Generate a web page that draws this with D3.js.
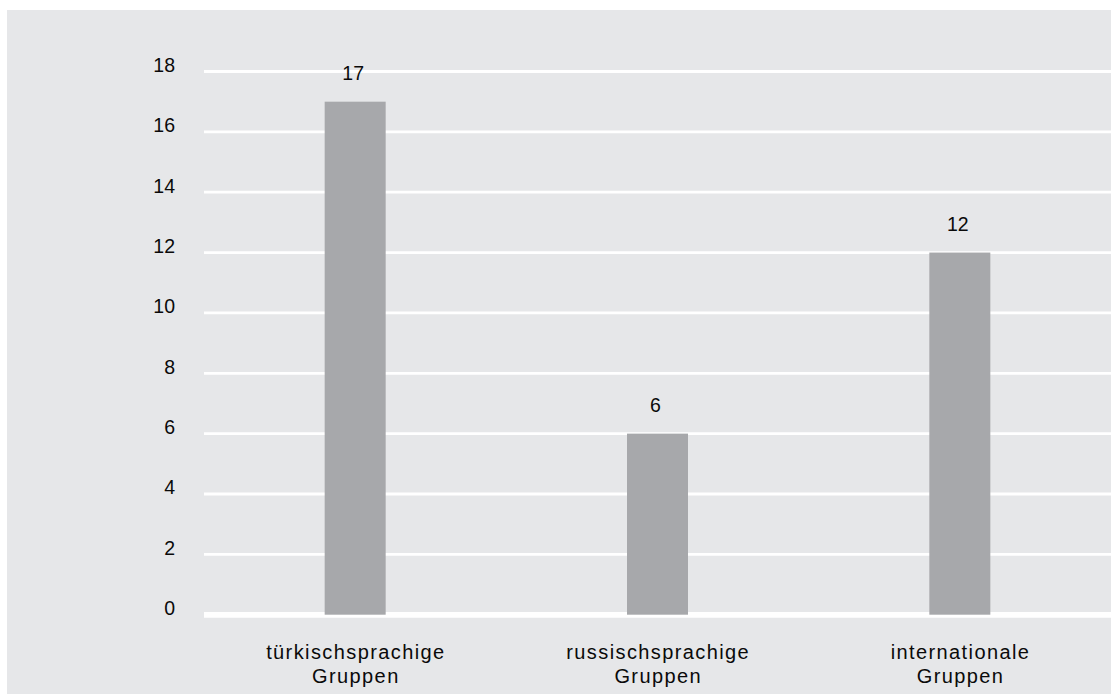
<!DOCTYPE html>
<html>
<head>
<meta charset="utf-8">
<script src="https://cdn.jsdelivr.net/npm/d3@7"></script>
<style>
  html, body { margin: 0; padding: 0; background: #ffffff; }
  svg { display: block; }
  text { font-family: "Liberation Sans", Arial, Helvetica, sans-serif; fill: #0a0a0a; }
</style>
</head>
<body>
<svg id="chart" width="1111" height="695"></svg>
<script>
// Data
const categories = [["türkischsprachige", "Gruppen"], ["russischsprachige", "Gruppen"], ["internationale", "Gruppen"]];
const values = [17, 6, 12];
const yTicks = [0, 2, 4, 6, 8, 10, 12, 14, 16, 18];

const W = 1111, H = 695;
const svg = d3.select("#chart");

// background panel
svg.append("rect").attr("x", 7).attr("y", 10).attr("width", W - 7).attr("height", 684).attr("fill", "#e6e7e9");

const keys = categories.map(c => c.join(" "));
const x = d3.scaleBand().domain(keys).range([204, 1111]).padding(0);
const y = d3.scaleLinear().domain([0, 18]).range([614.7, 71.5]);

// gridlines
svg.append("g").selectAll("line").data(yTicks.filter(d => d !== 0)).join("line")
  .attr("x1", 204).attr("x2", 1111)
  .attr("y1", d => y(d)).attr("y2", d => y(d))
  .attr("stroke", "#ffffff").attr("stroke-width", 2.8);
svg.append("line").attr("x1", 204).attr("x2", 1111)
  .attr("y1", y(0) + 0.2).attr("y2", y(0) + 0.2)
  .attr("stroke", "#ffffff").attr("stroke-width", 5.6);

// y tick labels
svg.append("g").selectAll("text").data(yTicks).join("text")
  .attr("x", 175).attr("y", d => y(d) + 0.5)
  .attr("text-anchor", "end")
  .style("font-size", "19.5px")
  .text(d => d);

// bars
const bw = 61;
svg.append("g").selectAll("rect").data(values).join("rect")
  .attr("x", (d, i) => x(keys[i]) + x.bandwidth() / 2 - bw / 2)
  .attr("width", bw)
  .attr("y", d => y(d))
  .attr("height", d => y(0) - y(d))
  .attr("fill", "#a7a8ab");

// value labels
svg.append("g").selectAll("text").data(values).join("text")
  .attr("x", (d, i) => x(keys[i]) + x.bandwidth() / 2 - 2)
  .attr("y", d => y(d) - 21.5)
  .attr("text-anchor", "middle")
  .style("font-size", "19.5px")
  .text(d => d);

// category labels
const cl = svg.append("g").selectAll("text").data(categories).join("text")
  .attr("text-anchor", "middle")
  .style("font-size", "20px")
  .style("letter-spacing", "1.4px");
cl.each(function(d, i) {
  const t = d3.select(this);
  const cx = x(keys[i]) + x.bandwidth() / 2;
  d.forEach((line, j) => {
    t.append("tspan").attr("x", cx + 0.7).attr("y", 659 + j * 24.3).text(line);
  });
});
</script>
</body>
</html>
